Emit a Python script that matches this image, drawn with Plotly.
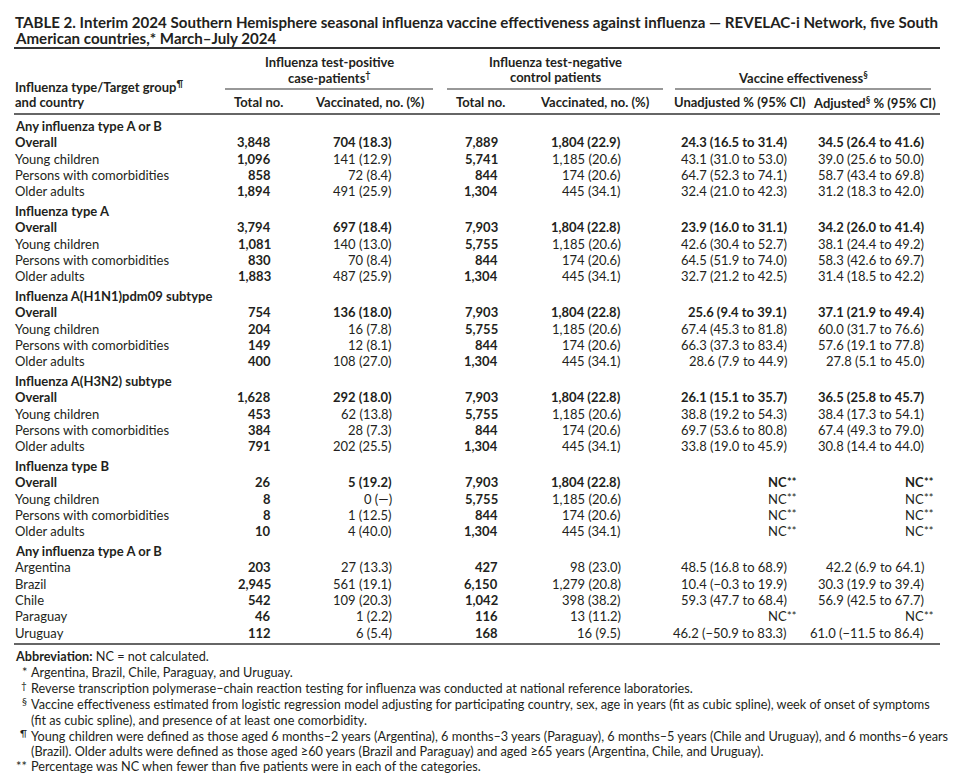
import plotly.graph_objects as go

# ---------------- DATA ----------------
title_lines = [
    "TABLE 2. Interim 2024 Southern Hemisphere seasonal influenza vaccine effectiveness against influenza — REVELAC-i Network, five South",
    "American countries,* March–July 2024",
]
stub_header = ["Influenza type/Target group<sup>¶</sup>", "and country"]
group_headers = [
    ["Influenza test-positive", "case-patients<sup>†</sup>"],
    ["Influenza test-negative", "control patients"],
    ["", "Vaccine effectiveness<sup>§</sup>"],
]
column_headers = ["Total no.", "Vaccinated, no. (%)", "Total no.", "Vaccinated, no. (%)",
                  "Unadjusted % (95% CI)", "Adjusted<sup>§</sup> % (95% CI)"]

section_titles = [
    "Any influenza type A or B",
    "Influenza type A",
    "Influenza A(H1N1)pdm09 subtype",
    "Influenza A(H3N2) subtype",
    "Influenza type B",
    "Any influenza type A or B",
]
section_sizes = [4, 4, 4, 4, 4, 5]

row_labels = [
    "Overall", "Young children", "Persons with comorbidities", "Older adults",
    "Overall", "Young children", "Persons with comorbidities", "Older adults",
    "Overall", "Young children", "Persons with comorbidities", "Older adults",
    "Overall", "Young children", "Persons with comorbidities", "Older adults",
    "Overall", "Young children", "Persons with comorbidities", "Older adults",
    "Argentina", "Brazil", "Chile", "Paraguay", "Uruguay",
]
case_total = [
    "3,848", "1,096", "858", "1,894",
    "3,794", "1,081", "830", "1,883",
    "754", "204", "149", "400",
    "1,628", "453", "384", "791",
    "26", "8", "8", "10",
    "203", "2,945", "542", "46", "112",
]
case_vacc = [
    "704 (18.3)", "141 (12.9)", "72 (8.4)", "491 (25.9)",
    "697 (18.4)", "140 (13.0)", "70 (8.4)", "487 (25.9)",
    "136 (18.0)", "16 (7.8)", "12 (8.1)", "108 (27.0)",
    "292 (18.0)", "62 (13.8)", "28 (7.3)", "202 (25.5)",
    "5 (19.2)", "0 (—)", "1 (12.5)", "4 (40.0)",
    "27 (13.3)", "561 (19.1)", "109 (20.3)", "1 (2.2)", "6 (5.4)",
]
ctrl_total = [
    "7,889", "5,741", "844", "1,304",
    "7,903", "5,755", "844", "1,304",
    "7,903", "5,755", "844", "1,304",
    "7,903", "5,755", "844", "1,304",
    "7,903", "5,755", "844", "1,304",
    "427", "6,150", "1,042", "116", "168",
]
ctrl_vacc = [
    "1,804 (22.9)", "1,185 (20.6)", "174 (20.6)", "445 (34.1)",
    "1,804 (22.8)", "1,185 (20.6)", "174 (20.6)", "445 (34.1)",
    "1,804 (22.8)", "1,185 (20.6)", "174 (20.6)", "445 (34.1)",
    "1,804 (22.8)", "1,185 (20.6)", "174 (20.6)", "445 (34.1)",
    "1,804 (22.8)", "1,185 (20.6)", "174 (20.6)", "445 (34.1)",
    "98 (23.0)", "1,279 (20.8)", "398 (38.2)", "13 (11.2)", "16 (9.5)",
]
ve_unadjusted = [
    "24.3 (16.5 to 31.4)", "43.1 (31.0 to 53.0)", "64.7 (52.3 to 74.1)", "32.4 (21.0 to 42.3)",
    "23.9 (16.0 to 31.1)", "42.6 (30.4 to 52.7)", "64.5 (51.9 to 74.0)", "32.7 (21.2 to 42.5)",
    "25.6 (9.4 to 39.1)", "67.4 (45.3 to 81.8)", "66.3 (37.3 to 83.4)", "28.6 (7.9 to 44.9)",
    "26.1 (15.1 to 35.7)", "38.8 (19.2 to 54.3)", "69.7 (53.6 to 80.8)", "33.8 (19.0 to 45.9)",
    "NC**", "NC**", "NC**", "NC**",
    "48.5 (16.8 to 68.9)", "10.4 (−0.3 to 19.9)", "59.3 (47.7 to 68.4)", "NC**", "46.2 (−50.9 to 83.3)",
]
ve_adjusted = [
    "34.5 (26.4 to 41.6)", "39.0 (25.6 to 50.0)", "58.7 (43.4 to 69.8)", "31.2 (18.3 to 42.0)",
    "34.2 (26.0 to 41.4)", "38.1 (24.4 to 49.2)", "58.3 (42.6 to 69.7)", "31.4 (18.5 to 42.2)",
    "37.1 (21.9 to 49.4)", "60.0 (31.7 to 76.6)", "57.6 (19.1 to 77.8)", "27.8 (5.1 to 45.0)",
    "36.5 (25.8 to 45.7)", "38.4 (17.3 to 54.1)", "67.4 (49.3 to 79.0)", "30.8 (14.4 to 44.0)",
    "NC**", "NC**", "NC**", "NC**",
    "42.2 (6.9 to 64.1)", "30.3 (19.9 to 39.4)", "56.9 (42.5 to 67.7)", "NC**", "61.0 (−11.5 to 86.4)",
]

footnote_marks = ["", "*", "†", "§", "", "¶", "", "**"]
footnote_texts = [
    "<b>Abbreviation:</b> NC = not calculated.",
    "Argentina, Brazil, Chile, Paraguay, and Uruguay.",
    "Reverse transcription polymerase–chain reaction testing for influenza was conducted at national reference laboratories.",
    "Vaccine effectiveness estimated from logistic regression model adjusting for participating country, sex, age in years (fit as cubic spline), week of onset of symptoms",
    "(fit as cubic spline), and presence of at least one comorbidity.",
    "Young children were defined as those aged 6 months–2 years (Argentina), 6 months–3 years (Paraguay), 6 months–5 years (Chile and Uruguay), and 6 months–6 years",
    "(Brazil). Older adults were defined as those aged ≥60 years (Brazil and Paraguay) and aged ≥65 years (Argentina, Chile, and Uruguay).",
    "Percentage was NC when fewer than five patients were in each of the categories.",
]

# ---------------- LAYOUT / STYLE ----------------
W, H = 960, 781
FONT = "Lato"
INK = "#231f20"
BODY = 13
FOOT = 12.7
TITLE = 15.1
LEFT = 14
RIGHT = 940

col_right = [272, 393, 499, 622, 788, 925]
col_center = [258, 370, 480, 595, 740, 874]
group_center = [329, 555, 803]
group_rule = [(225, 433), (447, 663), (675, 931)]

ann = []


def text(x, y, s, anchor="left", size=BODY, bold=False):
    if bold:
        s = "<b>" + s + "</b>"
    ann.append(dict(x=x, y=y, xref="x", yref="y", text=s, showarrow=False,
                    xanchor=anchor, yanchor="middle", borderpad=0,
                    font=dict(family=FONT, size=size, color=INK)))


# title
text(LEFT, 22, title_lines[0], size=TITLE, bold=True)
text(LEFT, 38, title_lines[1], size=TITLE, bold=True)

# header
text(LEFT, 86, stub_header[0], bold=True)
text(LEFT, 102, stub_header[1], bold=True)
for (l1, l2), cx in zip(group_headers, group_center):
    if l1:
        text(cx, 62, l1, anchor="center", bold=True)
    text(cx, 77, l2, anchor="center", bold=True)
for h, cx in zip(column_headers, col_center):
    text(cx, 102, h, anchor="center", bold=True)

# body
row_pitch = 16.3
sec_pitch = 85
idx = 0
for s, (title, n) in enumerate(zip(section_titles, section_sizes)):
    y0 = 126 + s * sec_pitch
    text(LEFT, y0, title, bold=True)
    for i in range(n):
        y = y0 + row_pitch * (i + 1)
        label = row_labels[idx]
        is_overall = label == "Overall"
        text(LEFT, y, label, bold=is_overall)
        vals = [case_total[idx], case_vacc[idx], ctrl_total[idx], ctrl_vacc[idx],
                ve_unadjusted[idx], ve_adjusted[idx]]
        for c, (v, xr) in enumerate(zip(vals, col_right)):
            b = is_overall or c in (0, 2)
            if v.endswith("**"):
                text(xr, y, v[:-2], anchor="right", bold=b)
                text(xr - 2, y - 1, "**", anchor="left", size=11, bold=b)
            else:
                text(xr, y, v, anchor="right", bold=b)
        idx += 1

# footnotes
fy = [656, 672, 688, 704, 720, 736, 751, 766]
for m, t, y in zip(footnote_marks, footnote_texts, fy):
    if m == "" and not t.startswith("<b>"):
        text(29.5, y, t, size=FOOT)
    elif m == "":
        text(LEFT, y, t, size=FOOT)
    elif m in ("*", "**"):
        text(28, y, m, anchor="right", size=FOOT)
        text(29.5, y, t, size=FOOT)
    else:
        text(28, y - 3, m, anchor="right", size=10)
        text(29.5, y, t, size=FOOT)

# rules
shapes = []


def rule(x0, x1, y, w):
    shapes.append(dict(type="line", xref="x", yref="y", x0=x0, x1=x1, y0=y, y1=y,
                       line=dict(color="#333333", width=w)))


rule(LEFT, RIGHT, 48, 2)
for a, b in group_rule:
    rule(a, b, 89, 1.2)
rule(LEFT, RIGHT, 114, 1.6)
rule(LEFT, RIGHT, 644, 1.6)

fig = go.Figure()
fig.update_layout(
    width=W, height=H,
    margin=dict(l=0, r=0, t=0, b=0),
    paper_bgcolor="white", plot_bgcolor="white",
    xaxis=dict(range=[0, W], visible=False, fixedrange=True),
    yaxis=dict(range=[H, 0], visible=False, fixedrange=True),
    annotations=ann, shapes=shapes, showlegend=False,
)
fig.write_html("out.html", config={"displayModeBar": False},
               post_script="document.body.style.margin='0';document.body.style.overflow='hidden';")
